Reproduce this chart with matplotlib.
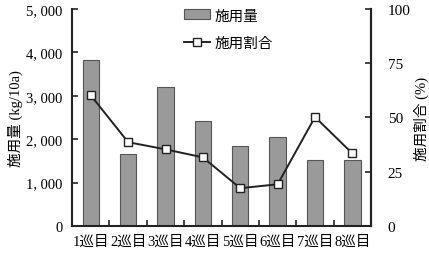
import matplotlib
matplotlib.use("Agg")
import matplotlib.pyplot as plt
from matplotlib.ticker import FuncFormatter

plt.rcParams['font.family'] = ['Liberation Serif', 'Noto Sans CJK JP', 'DejaVu Sans']

categories = ["1巡目", "2巡目", "3巡目", "4巡目", "5巡目", "6巡目", "7巡目", "8巡目"]
amount = [3830, 1660, 3200, 2420, 1840, 2050, 1510, 1510]
ratio = [60.2, 38.6, 35.3, 31.6, 17.4, 19.2, 50.2, 33.4]

fig = plt.figure(figsize=(4.29, 2.55), dpi=100)
ax = fig.add_axes([0.168, 0.110, 0.697, 0.851])
ax2 = ax.twinx()

x = list(range(len(categories)))
b = ax.bar(x, amount, width=0.44, color="#9a9a9a", edgecolor="#555555", linewidth=0.8, label="施用量", zorder=2)
ax.set_xlim(-0.5, len(categories) - 0.5)
ax.set_ylim(0, 5000)
ax.set_yticks([0, 1000, 2000, 3000, 4000, 5000])
ax.yaxis.set_major_formatter(FuncFormatter(lambda v, p: "0" if v == 0 else f"{int(v)//1000}, {int(v)%1000:03d}"))
ax.set_xticks(x)
ax.set_xticklabels(categories)
ax.set_xticks([i + 0.5 for i in x[:-1]], minor=True)
ax.tick_params(axis='x', which='major', length=0, labelsize=10.5, pad=6)
ax.tick_params(axis='x', which='minor', direction='in', length=4, width=1.2, color="#222222")
ax.tick_params(axis='y', direction='in', length=4, width=1.2, labelsize=10.5, pad=7, color="#222222")
ax.set_ylabel("施用量 (kg/10a)", fontsize=10.5, labelpad=2)

l, = ax2.plot(x, ratio, color="#222222", linewidth=1.4, marker="s", markersize=6,
              markerfacecolor="white", markeredgecolor="#222222", markeredgewidth=1.0, label="施用割合", zorder=3)
ax2.set_ylim(0, 100)
ax2.set_yticks([0, 25, 50, 75, 100])
ax2.tick_params(axis='y', direction='in', length=4, width=1.2, labelsize=11, pad=12, color="#222222")
ax2.set_ylabel("施用割合 (%)", fontsize=10.5, labelpad=2)

for a in (ax, ax2):
    a.spines['top'].set_visible(False)
    for s in ('left', 'right', 'bottom'):
        a.spines[s].set_linewidth(1.5)
        a.spines[s].set_color("#222222")
ax2.spines['left'].set_visible(False)
ax2.spines['bottom'].set_visible(False)

leg = ax.legend([b, l], ["施用量", "施用割合"], loc="upper left", bbox_to_anchor=(0.33, 1.06),
                frameon=False, fontsize=10.5, handlelength=1.8, handletextpad=0.3, labelspacing=1.0)

fig.savefig("out.png", dpi=100)
